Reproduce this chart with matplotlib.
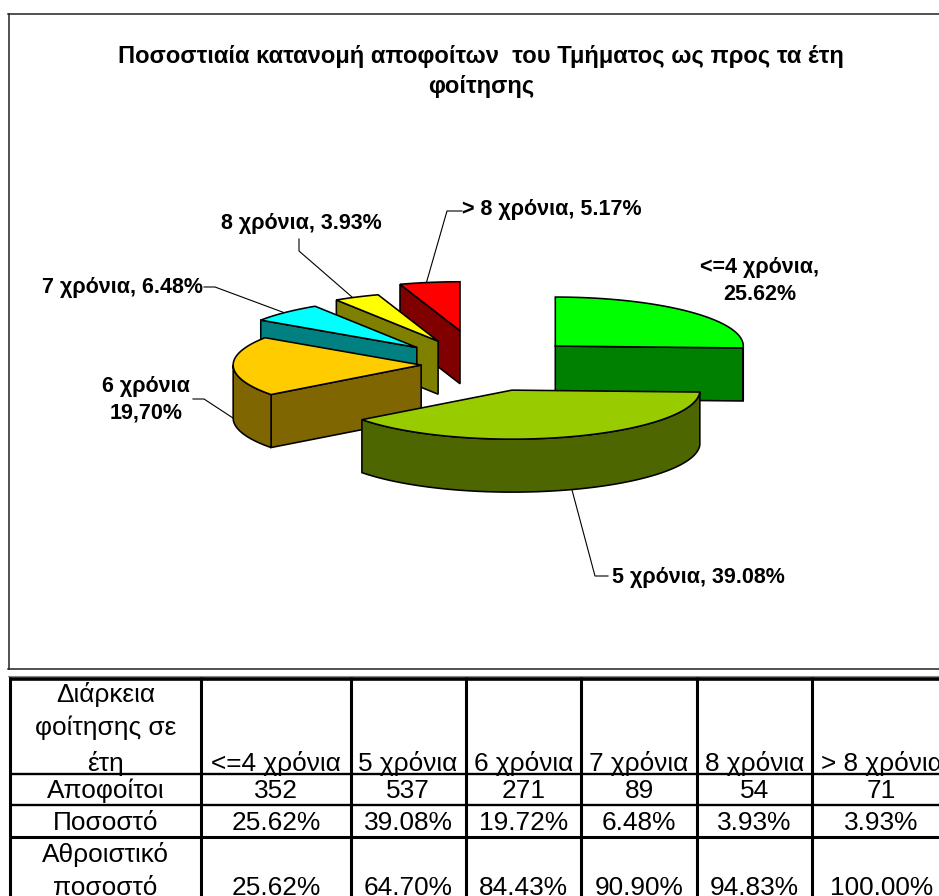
import numpy as np
import matplotlib
matplotlib.use('Agg')
import matplotlib.pyplot as plt

plt.rcParams['font.family'] = ['Liberation Sans', 'DejaVu Sans']

# values on the pie labels
pie_labels = ['<=4 χρόνια,\n25.62%', '5 χρόνια, 39.08%', '6 χρόνια\n19,70%',
              '7 χρόνια, 6.48%', '8 χρόνια, 3.93%', '> 8 χρόνια, 5.17%']
pie_values = [25.62, 39.08, 19.70, 6.48, 3.93, 5.17]
explode = [0.546, 0.546, 0.32, 0.49, 0.53, 0.70]
top_colors = ['#00FF00', '#99CC00', '#FFCC00', '#00FFFF', '#FFFF00', '#FF0000']
side_colors = ['#008000', '#4D6600', '#806600', '#008080', '#808000', '#800000']

# table
col_headers = ['<=4 χρόνια', '5 χρόνια', '6 χρόνια', '7 χρόνια', '8 χρόνια', '> 8 χρόνια']
graduates = ['352', '537', '271', '89', '54', '71']
percent = ['25.62%', '39.08%', '19.72%', '6.48%', '3.93%', '3.93%']
cumulative = ['25.62%', '64.70%', '84.43%', '90.90%', '94.83%', '100.00%']

# pie geometry, in pixels
cx, cy = 481.3, 364.6
rx, ry = 188, 49
depth = 53

fig = plt.figure(figsize=(9.39, 8.96), dpi=100)
ax = fig.add_axes([0, 0, 1, 1])
ax.set_xlim(0, 939)
ax.set_ylim(896, 0)
ax.axis('off')


def rim(a, ox, oy):
    # point on the ellipse, angle clockwise from 12 o'clock
    a = np.radians(a)
    return ox + rx * np.sin(a), oy - ry * np.cos(a)


def draw_slice(a0, a1, e, top, side, z):
    mid = np.radians((a0 + a1) / 2)
    ox = cx + e * rx * np.sin(mid)
    oy = cy - e * ry * np.cos(mid)
    ang = np.linspace(a0, a1, 80)
    xs, ys = rim(ang, ox, oy)
    lw = 1.15
    # cut faces, only those turned to the viewer
    for a in (a0, a1):
        visible = np.sin(np.radians(a)) < 0 if a == a0 else np.sin(np.radians(a)) > 0
        if visible:
            ex, ey = rim(a, ox, oy)
            ax.fill([ox, ex, ex, ox], [oy, ey, ey + depth, oy + depth],
                    facecolor=side, edgecolor='black', lw=lw, zorder=z)
    # outer wall, front half of the ellipse
    front = ang[(ang >= 90) & (ang <= 270)]
    if len(front) > 1:
        fx, fy = rim(front, ox, oy)
        ax.fill(np.r_[fx, fx[::-1]], np.r_[fy, fy[::-1] + depth],
                facecolor=side, edgecolor='black', lw=lw, zorder=z)
    ax.fill(np.r_[ox, xs], np.r_[oy, ys], facecolor=top, edgecolor='black', lw=lw, zorder=z + 0.5)


edges = np.r_[0, np.cumsum(pie_values)] / np.sum(pie_values) * 360
# painted back to front
paint_order = [5, 4, 3, 2, 0, 1]
for z, i in enumerate(paint_order):
    draw_slice(edges[i], edges[i + 1], explode[i], top_colors[i], side_colors[i], 3 + z)

# chart frame
ax.plot([8.5, 8.5], [14, 669], color='#222222', lw=1.1, zorder=1)
ax.plot([8, 939], [14.5, 14.5], color='#222222', lw=1.1, zorder=1)
ax.plot([8, 939], [669, 669], color='#222222', lw=1.1, zorder=1)

ax.text(481, 62.5, 'Ποσοστιαία κατανομή αποφοίτων  του Τμήματος ως προς τα έτη',
        ha='center', va='baseline', fontsize=17.15, fontweight='bold')
ax.text(481, 92.5, 'φοίτησης', ha='center', va='baseline', fontsize=17.15, fontweight='bold')

# data labels and leader lines
label_pos = [(760, 281), (698, 577), (146, 400), (123, 288), (301, 223), (552, 210)]
leaders = [None,
           [(572, 490), (595, 576), (608, 576)],
           [(233, 418), (204, 399), (193, 399)],
           [(285, 313), (215, 287), (204, 287)],
           [(352, 297), (299, 251), (299, 239)],
           [(426, 284), (447, 211), (462, 211)]]
for i, txt in enumerate(pie_labels):
    ax.text(label_pos[i][0], label_pos[i][1], txt, ha='center', va='center',
            fontsize=15.5, fontweight='bold', linespacing=1.32, zorder=20)
    if leaders[i] is not None:
        pts = np.array(leaders[i])
        ax.plot(pts[:, 0], pts[:, 1], color='black', lw=0.8, zorder=2)

# table
col_x = [10, 201, 350.7, 465.7, 581, 696.7, 811.7]
row_y = [678.7, 774, 805, 837]
row_lw = [2.6, 1.7, 1.7, 2.2]
ax.plot([8, 939], [676.5, 676.5], color='#888888', lw=0.8)
for x in col_x:
    ax.plot([x, x], [677, 896], color='black', lw=2.2, solid_capstyle='butt')
for y, lw in zip(row_y, row_lw):
    ax.plot([8.5, 939], [y, y], color='black', lw=lw, solid_capstyle='butt')

fs = 18.9
first_col = [('Διάρκεια', 702), ('φοίτησης σε', 735), ('έτη', 771.5), ('Αποφοίτοι', 798),
             ('Ποσοστό', 830), ('Αθροιστικό', 862), ('ποσοστό', 895)]
for txt, y in first_col:
    ax.text(105.5, y, txt, ha='center', va='baseline', fontsize=fs)

col_centers = [276, 408, 523.5, 639, 754.5, 881.5]
for j, xc in enumerate(col_centers):
    ax.text(xc, 771.5, col_headers[j], ha='center', va='baseline', fontsize=fs)
    ax.text(xc, 798, graduates[j], ha='center', va='baseline', fontsize=fs)
    ax.text(xc, 830, percent[j], ha='center', va='baseline', fontsize=fs)
    ax.text(xc, 895, cumulative[j], ha='center', va='baseline', fontsize=fs)

fig.savefig('out.png', dpi=100)
